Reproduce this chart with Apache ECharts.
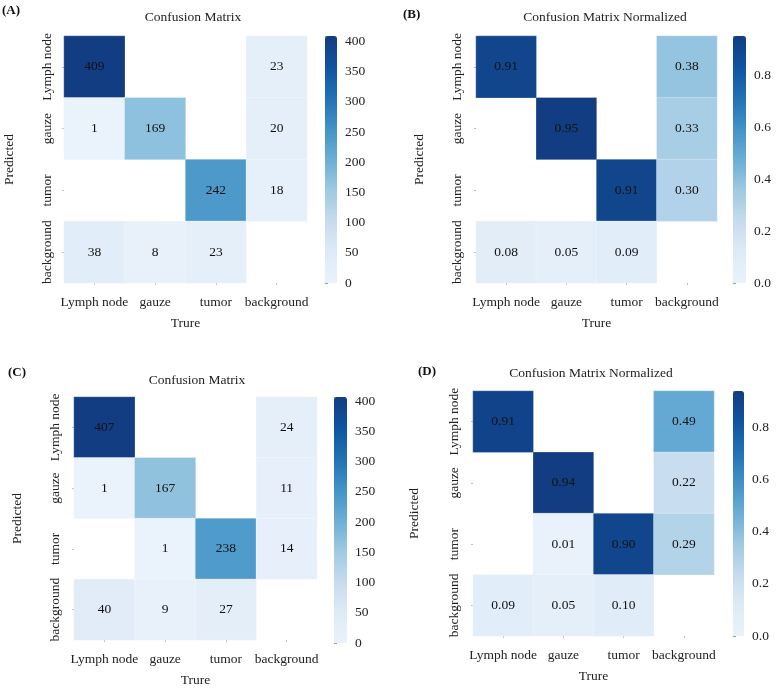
<!DOCTYPE html>
<html>
<head>
<meta charset="utf-8">
<script src="https://cdn.jsdelivr.net/npm/echarts@6/dist/echarts.min.js"></script>
<style>
  html, body { margin: 0; padding: 0; background: #fff; }
  #main { width: 780px; height: 688px; }
</style>
</head>
<body>
<div id="main"></div>
<script>
// rows = Predicted, cols = True
const categories = ['Lymph node', 'gauze', 'tumor', 'background'];
const countsA = [
  [409, 0, 0, 23],
  [1, 169, 0, 20],
  [0, 0, 242, 18],
  [38, 8, 23, 0]
];
const normA = [
  [0.91, 0, 0, 0.38],
  [0, 0.95, 0, 0.33],
  [0, 0, 0.91, 0.30],
  [0.08, 0.05, 0.09, 0]
];
const countsC = [
  [407, 0, 0, 24],
  [1, 167, 0, 11],
  [0, 1, 238, 14],
  [40, 9, 27, 0]
];
const normD = [
  [0.91, 0, 0, 0.49],
  [0, 0.94, 0, 0.22],
  [0, 0.01, 0.90, 0.29],
  [0.09, 0.05, 0.10, 0]
];
const panelLetters = ['(A)', '(B)', '(C)', '(D)'];
const panelTitles = ['Confusion Matrix', 'Confusion Matrix Normalized', 'Confusion Matrix', 'Confusion Matrix Normalized'];

const blues = ['#eaf2fb', '#deebf7', '#c6dbef', '#9ecae1', '#6baed6', '#4292c6', '#2171b5', '#0f54a0', '#123d82'];
const FONT = "'Liberation Serif', 'Times New Roman', serif";

// layout per panel (pixels)
const panels = [
  {m: countsA, norm: false, g: [64, 36, 243, 247], cb: [325, 12], t: [193, 17], l: [2, 11], ym: 10, yn: 48},
  {m: normA, norm: true, g: [476, 36, 241, 247], cb: [733, 13], t: [605, 17], l: [403, 15], ym: 12, yn: 50},
  {m: countsC, norm: false, g: [74, 397, 243, 246], cb: [334, 13], t: [197, 380], l: [8, 373], ym: 12, yn: 50},
  {m: normD, norm: true, g: [473, 391, 241, 245], cb: [733, 11], t: [591, 373], l: [418, 372], ym: 12, yn: 52}
];

const grid = [], xAxis = [], yAxis = [], series = [], visualMap = [], graphic = [];

panels.forEach((p, i) => {
  const [gl, gt, gw, gh] = p.g;
  const maxV = Math.max(...p.m.flat());
  const step = p.norm ? 0.2 : 50;

  // heatmap grid
  grid.push({left: gl, top: gt, width: gw, height: gh});
  // colorbar axis grid
  grid.push({left: p.cb[0], top: gt, width: p.cb[1], height: gh});

  xAxis.push({
    type: 'category', gridIndex: 2 * i, data: categories,
    axisLine: {show: false},
    axisTick: {show: true, alignWithLabel: true, length: 2, lineStyle: {color: '#bbb'}},
    axisLabel: {color: '#222', fontSize: 13.5, fontFamily: FONT, margin: 12, interval: 0, hideOverlap: false},
    splitArea: {show: false},
    name: 'Trure', nameLocation: 'middle', nameGap: 33,
    nameTextStyle: {color: '#222', fontSize: 13.5, fontFamily: FONT}
  });
  xAxis.push({type: 'value', gridIndex: 2 * i + 1, show: false});

  yAxis.push({
    type: 'category', gridIndex: 2 * i, data: categories, inverse: true,
    axisLine: {show: false},
    axisTick: {show: true, alignWithLabel: true, length: 2, lineStyle: {color: '#bbb'}},
    axisLabel: {color: '#222', fontSize: 13.5, fontFamily: FONT, rotate: 90, margin: p.ym, interval: 0, hideOverlap: false},
    splitArea: {show: false},
    name: 'Predicted', nameLocation: 'middle', nameRotate: 90, nameGap: p.yn,
    nameTextStyle: {color: '#222', fontSize: 13.5, fontFamily: FONT}
  });
  yAxis.push({
    type: 'value', gridIndex: 2 * i + 1, position: 'right',
    min: 0, max: maxV, interval: step,
    axisLine: {show: false},
    axisTick: {show: true, length: 3, lineStyle: {color: '#999'}},
    splitLine: {show: false},
    axisLabel: {
      color: '#222', fontSize: 13.5, fontFamily: FONT, margin: 8,
      formatter: v => {
        const k = v / step;
        if (Math.abs(k - Math.round(k)) > 1e-6) return '';
        return p.norm ? v.toFixed(1) : String(Math.round(v));
      }
    }
  });

  const data = [];
  p.m.forEach((row, r) => row.forEach((v, c) => {
    if (v !== 0) data.push([c, r, v]);
  }));

  visualMap.push({
    type: 'continuous', seriesIndex: i, min: 0, max: maxV,
    calculable: false, orient: 'vertical', padding: 0,
    left: p.cb[0], top: gt, itemWidth: p.cb[1], itemHeight: gh,
    inRange: {color: blues}, text: null, textStyle: {fontSize: 0}
  });

  series.push({
    type: 'heatmap', xAxisIndex: 2 * i, yAxisIndex: 2 * i, data: data,
    label: {
      show: true, color: '#111', fontSize: 13.5, fontFamily: FONT,
      formatter: d => p.norm ? d.value[2].toFixed(2) : String(d.value[2])
    },
    itemStyle: {borderColor: 'rgba(255,255,255,0.5)', borderWidth: 0.5},
    emphasis: {disabled: true}
  });

  graphic.push({
    type: 'text', x: p.t[0], y: p.t[1],
    style: {text: panelTitles[i], fill: '#222', font: '13.5px ' + FONT, textAlign: 'center', textVerticalAlign: 'middle'}
  });
  graphic.push({
    type: 'text', x: p.l[0], y: p.l[1],
    style: {text: panelLetters[i], fill: '#111', font: 'bold 13px ' + FONT, textAlign: 'left', textVerticalAlign: 'middle'}
  });
});

const chart = echarts.init(document.getElementById('main'), null, {renderer: 'canvas'});
chart.setOption({
  backgroundColor: '#fff',
  animation: false,
  textStyle: {fontFamily: FONT},
  grid: grid,
  xAxis: xAxis,
  yAxis: yAxis,
  visualMap: visualMap,
  series: series,
  graphic: graphic
});
</script>
</body>
</html>
